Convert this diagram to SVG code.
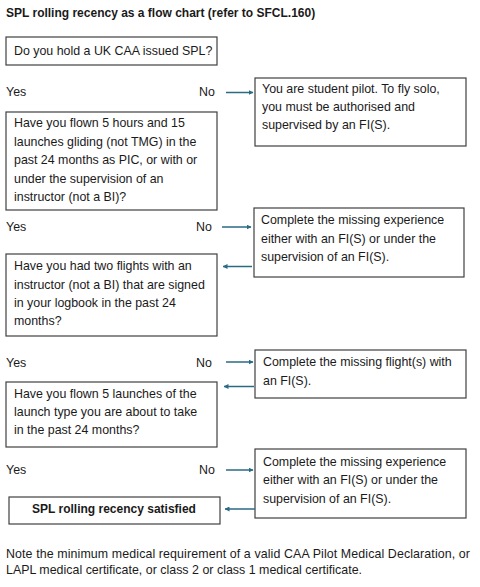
<svg xmlns="http://www.w3.org/2000/svg" width="480" height="587" viewBox="0 0 480 587">
<defs>
<style>
text{font-family:"Liberation Sans",Arial,sans-serif;font-size:12.4px;fill:#1a1a1a}
.b{font-weight:bold;font-size:12px}
.t{font-weight:bold;font-size:12px}
rect.box{fill:#fff;stroke:#404040;stroke-width:1.2}
.arr{stroke:#2a6a85;stroke-width:1.5;fill:none;marker-end:url(#ah)}
</style>
<marker id="ah" viewBox="0 0 10 10" refX="9" refY="5" markerWidth="5" markerHeight="5" orient="auto" markerUnits="userSpaceOnUse"><path d="M0,0L10,5L0,10z" fill="#2a6a85"/></marker>
</defs>
<rect width="480" height="587" fill="#fff"/>
<text class="t" x="6" y="17">SPL rolling recency as a flow chart (refer to SFCL.160)</text>

<g id="q1"><rect class="box" x="6" y="37" width="211" height="28"/><text x="14" y="55">Do you hold a UK CAA issued SPL?</text></g>
<g id="r1"><rect class="box" x="255" y="78" width="211" height="68"/>
<text x="262" y="93">You are student pilot. To fly solo,</text>
<text x="262" y="111">you must be authorised and</text>
<text x="262" y="129">supervised by an FI(S).</text></g>

<g id="q2"><rect class="box" x="6" y="112" width="211" height="98"/>
<text x="14" y="127">Have you flown 5 hours and 15</text>
<text x="14" y="145.5">launches gliding (not TMG) in the</text>
<text x="14" y="164">past 24 months as PIC, or with or</text>
<text x="14" y="182.5">under the supervision of an</text>
<text x="14" y="201">instructor (not a BI)?</text></g>
<g id="r2"><rect class="box" x="254" y="208" width="210" height="69"/>
<text x="261" y="224">Complete the missing experience</text>
<text x="261" y="242.5">either with an FI(S) or under the</text>
<text x="261" y="261">supervision of an FI(S).</text></g>

<g id="q3"><rect class="box" x="6" y="254" width="211" height="82"/>
<text x="14" y="270">Have you had two flights with an</text>
<text x="14" y="288.5">instructor (not a BI) that are signed</text>
<text x="14" y="307">in your logbook in the past 24</text>
<text x="14" y="325">months?</text></g>
<g id="r3"><rect class="box" x="255" y="350" width="211" height="48"/>
<text x="263" y="366">Complete the missing flight(s) with</text>
<text x="263" y="385">an FI(S).</text></g>

<g id="q4"><rect class="box" x="6" y="382" width="211" height="65"/>
<text x="14" y="397.5">Have you flown 5 launches of the</text>
<text x="14" y="416">launch type you are about to take</text>
<text x="14" y="434">in the past 24 months?</text></g>
<g id="r4"><rect class="box" x="255" y="449" width="211" height="69"/>
<text x="263" y="466">Complete the missing experience</text>
<text x="263" y="484">either with an FI(S) or under the</text>
<text x="263" y="502.5">supervision of an FI(S).</text></g>

<g id="done"><rect class="box" x="9" y="497" width="211" height="27"/>
<text class="b" x="114" y="512.5" text-anchor="middle">SPL rolling recency satisfied</text></g>

<g id="labels">
<text x="6" y="96">Yes</text><text x="199" y="96">No</text>
<text x="6" y="231">Yes</text><text x="196" y="231">No</text>
<text x="6" y="367">Yes</text><text x="196" y="367">No</text>
<text x="6" y="474">Yes</text><text x="199" y="474">No</text>
</g>

<g id="connectors">
<line class="arr" x1="226" y1="92.5" x2="253" y2="92.5"/>
<line class="arr" x1="222" y1="227" x2="251" y2="227"/>
<line class="arr" x1="252" y1="266.5" x2="223" y2="266.5"/>
<line class="arr" x1="226" y1="362" x2="253" y2="362"/>
<line class="arr" x1="254" y1="386.5" x2="224" y2="386.5"/>
<line class="arr" x1="226" y1="470" x2="253" y2="470"/>
<line class="arr" x1="255" y1="509" x2="225" y2="509"/>
</g>

<text x="6" y="558" textLength="464" lengthAdjust="spacing">Note the minimum medical requirement of a valid CAA Pilot Medical Declaration, or</text>
<text x="6" y="574" textLength="356" lengthAdjust="spacing">LAPL medical certificate, or class 2 or class 1 medical certificate.</text>
</svg>
